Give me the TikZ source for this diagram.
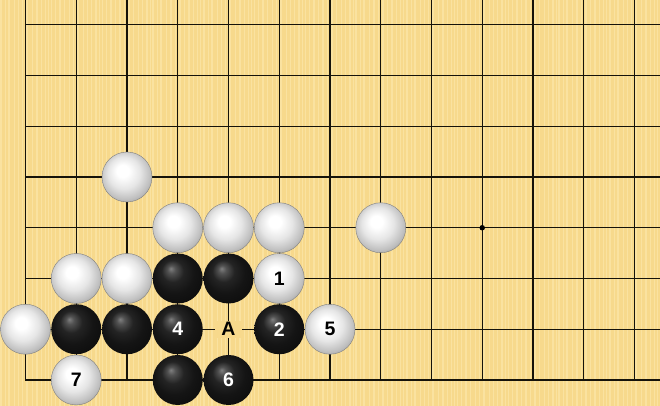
\documentclass[tikz,border=0pt]{standalone}
\usepackage{fontspec}
\setmainfont{Liberation Sans}
\newfontfamily\stonefont{Liberation Sans Bold}
\definecolor{board}{HTML}{F7D98C}
\definecolor{boardlight}{HTML}{FAE2A0}
\definecolor{gridline}{HTML}{15120A}
\pgfdeclareradialshading{bstoneshade}{\pgfpoint{-7bp}{10bp}}{color(0bp)=(black!50); color(4bp)=(black!68); color(11bp)=(black!86); color(20bp)=(black!92); color(31bp)=(black!95); color(37bp)=(black!70); color(42bp)=(black!70)}
\pgfdeclareradialshading{wstoneshade}{\pgfpoint{-5bp}{7bp}}{color(0bp)=(white); color(6bp)=(white); color(16bp)=(black!10); color(25bp)=(black!25); color(33bp)=(black!45); color(40bp)=(black!50)}
\tikzset{
  gridln/.style={draw=gridline, line width=1.4pt},
  stonebase/.style={circle, minimum size=50pt, inner sep=0pt, font=\stonefont\fontsize{19.5pt}{19.5pt}\selectfont},
  bstone/.style={stonebase, shading=bstoneshade, text=white},
  wstone/.style={stonebase, shading=wstoneshade, draw=black!50, line width=0.4pt, text=black},
  marklabel/.style={fill=board, inner xsep=6.5pt, inner ysep=2pt, font=\stonefont\fontsize{19.5pt}{19.5pt}\selectfont, text=black},
  hoshi/.style={circle, fill=black, minimum size=5.5pt, inner sep=0pt}
}
\begin{document}
\begin{tikzpicture}[x=50.75pt, y=50.75pt]
  \useasboundingbox (-0.5025,-0.5123) rectangle (12.5025,7.4877);
  \fill[board] (-0.5025,-0.5123) rectangle (12.5025,7.4877);
  \foreach \s/\w in {0.00/0.03,0.09/0.02,0.16/0.04,0.27/0.02,0.35/0.03,0.44/0.02,0.52/0.04,0.63/0.02,0.71/0.03,0.80/0.02,0.88/0.03,0.95/0.02}{
    \foreach \b in {-1,0,...,12}{
      \fill[boardlight] ({\b+\s-0.5025},-0.5123) rectangle ({\b+\s+\w-0.5025},7.4877);
    }
  }
  % grid
  \foreach \i in {0,...,12}{
    \draw[gridln] (\i,0) -- (\i,7.4877);
  }
  \foreach \k in {0,...,7}{
    \draw[gridln] (0,\k) -- (12.5025,\k);
  }
  \draw[gridln, line cap=rect] (0,7.4877) -- (0,0) -- (12.5025,0);
  \node[hoshi] (star) at (9,3) {};
  % white stones
  \node[wstone] (w24) at (2,4) {};
  \node[wstone] (w33) at (3,3) {};
  \node[wstone] (w43) at (4,3) {};
  \node[wstone] (w53) at (5,3) {};
  \node[wstone] (w73) at (7,3) {};
  \node[wstone] (w12) at (1,2) {};
  \node[wstone] (w22) at (2,2) {};
  \node[wstone] (m1) at (5,2) {1};
  \node[wstone] (w01) at (0,1) {};
  \node[wstone] (m5) at (6,1) {5};
  \node[wstone] (m7) at (1,0) {7};
  % black stones
  \node[bstone] (b32) at (3,2) {};
  \node[bstone] (b42) at (4,2) {};
  \node[bstone] (b11) at (1,1) {};
  \node[bstone] (b21) at (2,1) {};
  \node[bstone] (m4) at (3,1) {4};
  \node[bstone] (m2) at (5,1) {2};
  \node[bstone] (b30) at (3,0) {};
  \node[bstone] (m6) at (4,0) {6};
  % mark
  \node[marklabel] (markA) at (4,1) {A};
\end{tikzpicture}
\end{document}
